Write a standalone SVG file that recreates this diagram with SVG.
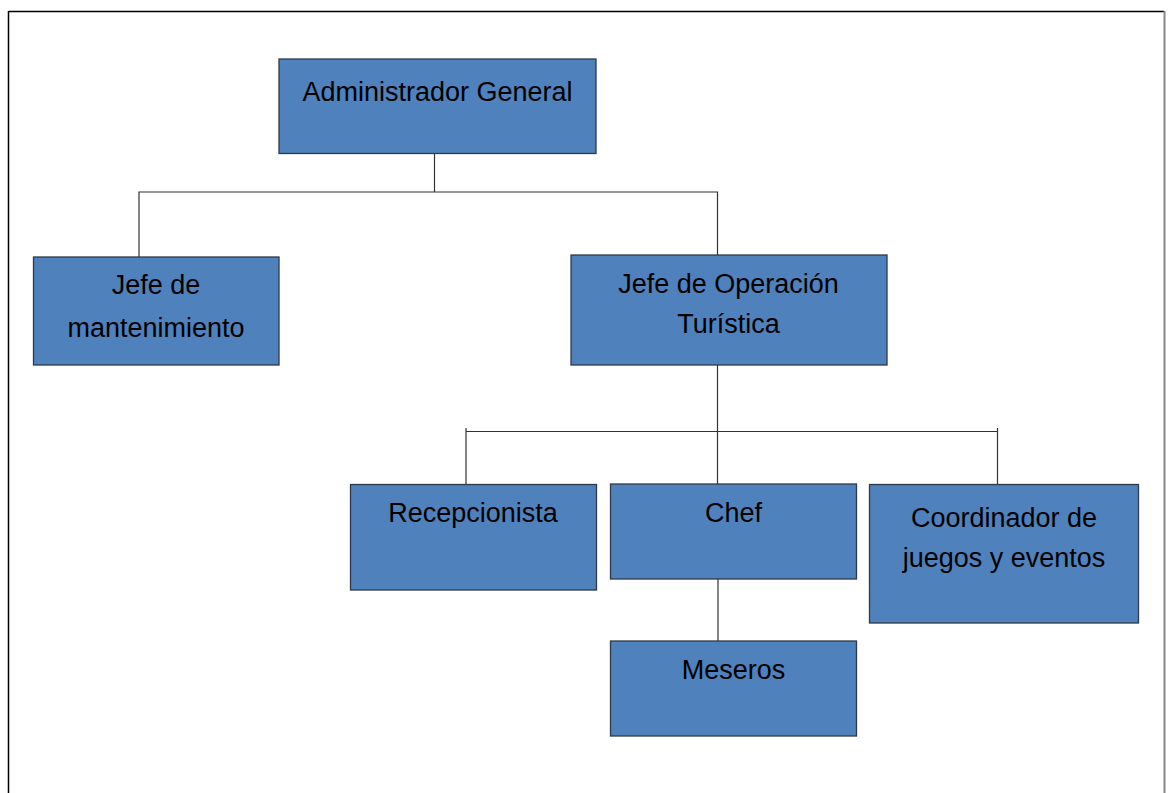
<svg xmlns="http://www.w3.org/2000/svg" width="1170" height="793" viewBox="0 0 1170 793">
<style>
.box{fill:#4F81BD;stroke:#2f3a48;stroke-width:1.3}
.lbl{font-family:"Liberation Sans",Arial,sans-serif;font-size:27px;fill:#000;text-anchor:middle}
.con{stroke:#333;stroke-width:1.2;fill:none}
</style>
<rect width="1170" height="793" fill="#fff"/>
<g id="frame">
<line x1="8.5" y1="11.5" x2="1164" y2="11.5" stroke="#000" stroke-width="1.5"/>
<line x1="8.5" y1="11" x2="8.5" y2="793" stroke="#000" stroke-width="1.5"/>
<line x1="1164.5" y1="11" x2="1164.5" y2="793" stroke="#888" stroke-width="2"/>
</g>
<g id="connectors">
<path class="con" d="M434.5 154 V192 M139 192 H717.5 M139 191.5 V257 M717.5 191.5 V255"/>
<path class="con" d="M717.5 365 V484 M466 431.5 H997.5 M466 428 V484 M997.5 428 V485"/>
<path class="con" d="M718 579 V641"/>
</g>
<g id="n-admin">
<rect class="box" x="279" y="59" width="317" height="94.5"/>
<text class="lbl" x="437.5" y="101">Administrador General</text>
</g>
<g id="n-mant">
<rect class="box" x="33.5" y="257" width="245.5" height="108"/>
<text class="lbl" x="156" y="294">Jefe de</text>
<text class="lbl" x="156" y="337">mantenimiento</text>
</g>
<g id="n-oper">
<rect class="box" x="571" y="255" width="316" height="110"/>
<text class="lbl" x="728.5" y="293">Jefe de Operación</text>
<text class="lbl" x="728.5" y="333">Turística</text>
</g>
<g id="n-recep">
<rect class="box" x="350.5" y="484.5" width="246" height="105.5"/>
<text class="lbl" x="473" y="522">Recepcionista</text>
</g>
<g id="n-chef">
<rect class="box" x="610.5" y="484" width="246" height="95"/>
<text class="lbl" x="733.5" y="521.5">Chef</text>
</g>
<g id="n-coord">
<rect class="box" x="869.5" y="484.5" width="269" height="138.5"/>
<text class="lbl" x="1004" y="527">Coordinador de</text>
<text class="lbl" x="1004" y="567">juegos y eventos</text>
</g>
<g id="n-meseros">
<rect class="box" x="610.5" y="641" width="246" height="95"/>
<text class="lbl" x="733.5" y="679">Meseros</text>
</g>
</svg>
